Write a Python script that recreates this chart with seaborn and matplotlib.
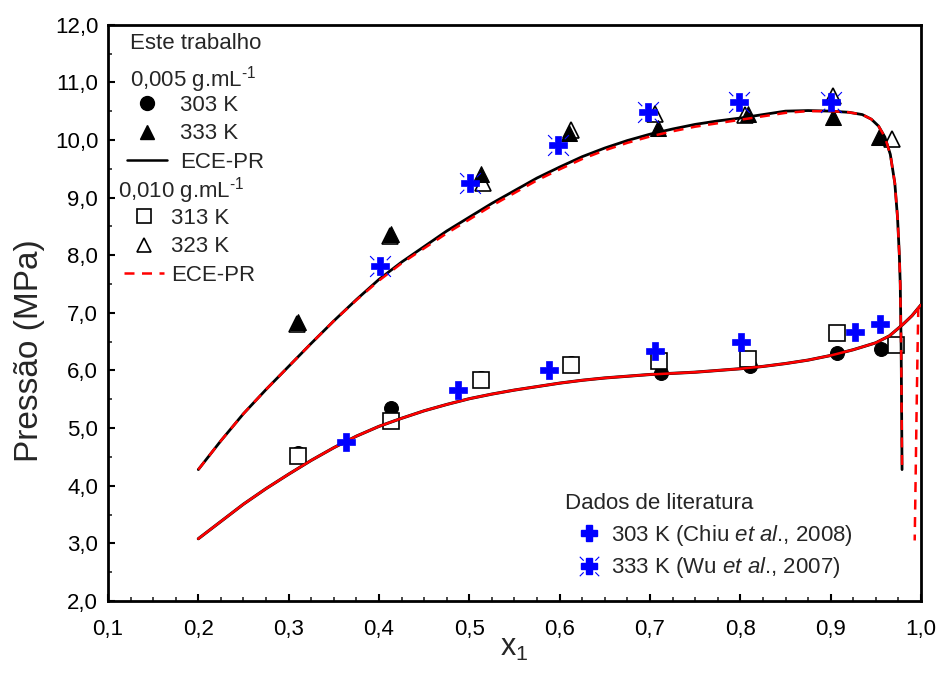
import numpy as np
import matplotlib
matplotlib.use("Agg")
import matplotlib.pyplot as plt
from matplotlib.lines import Line2D
from matplotlib.path import Path
from matplotlib.ticker import MultipleLocator, FuncFormatter
import seaborn as sns

# ---- experimental data: this work ----
x_303 = [0.310, 0.413, 0.513, 0.612, 0.712, 0.811, 0.907, 0.956]
p_303 = [4.56, 5.35, 5.87, 6.13, 5.95, 6.08, 6.31, 6.37]

x_333 = [0.310, 0.413, 0.513, 0.610, 0.709, 0.808, 0.903, 0.953]
p_333 = [6.84, 8.37, 9.41, 10.12, 10.20, 10.45, 10.40, 10.05]

x_313 = [0.310, 0.413, 0.513, 0.612, 0.710, 0.808, 0.907, 0.972]
p_313 = [4.51, 5.13, 5.83, 6.10, 6.17, 6.20, 6.65, 6.44]

x_323 = [0.309, 0.412, 0.515, 0.612, 0.705, 0.805, 0.903, 0.968]
p_323 = [6.80, 8.33, 9.25, 10.18, 10.45, 10.44, 10.77, 10.02]

# ---- literature data ----
x_chiu = [0.363, 0.488, 0.588, 0.706, 0.801, 0.927, 0.955]
p_chiu = [4.75, 5.66, 6.01, 6.33, 6.49, 6.66, 6.80]

x_wu = [0.401, 0.501, 0.598, 0.698, 0.799, 0.900]
p_wu = [7.82, 9.25, 9.91, 10.48, 10.65, 10.65]

# ---- ECE-PR model curves ----
x_hi = [0.200, 0.225, 0.250, 0.275, 0.300, 0.325, 0.350, 0.375, 0.400, 0.425,
        0.450, 0.475, 0.500, 0.525, 0.550, 0.575, 0.600, 0.625, 0.650, 0.675,
        0.700, 0.725, 0.750, 0.775, 0.800, 0.825, 0.850, 0.875, 0.900, 0.920,
        0.935, 0.945, 0.953, 0.960, 0.966, 0.971, 0.974, 0.976, 0.977, 0.978,
        0.979]
p_hi_005 = [4.28, 4.78, 5.25, 5.67, 6.07, 6.47, 6.86, 7.23, 7.58, 7.88,
            8.15, 8.42, 8.66, 8.90, 9.12, 9.34, 9.53, 9.71, 9.86, 9.99,
            10.10, 10.19, 10.27, 10.33, 10.38, 10.44, 10.50, 10.51, 10.50, 10.48,
            10.44, 10.36, 10.24, 10.05, 9.75, 9.25, 8.65, 8.00, 7.50, 6.40,
            4.28]
p_hi_010 = [4.28, 4.78, 5.25, 5.67, 6.07, 6.47, 6.86, 7.22, 7.56, 7.86,
            8.12, 8.38, 8.62, 8.86, 9.08, 9.30, 9.49, 9.67, 9.82, 9.95,
            10.06, 10.15, 10.23, 10.29, 10.35, 10.41, 10.47, 10.50, 10.50, 10.48,
            10.44, 10.36, 10.24, 10.05, 9.75, 9.25, 8.65, 8.00, 7.50, 6.40,
            4.28]

x_lo = [0.200, 0.225, 0.250, 0.275, 0.300, 0.325, 0.350, 0.375, 0.400, 0.425,
        0.450, 0.475, 0.500, 0.525, 0.550, 0.575, 0.600, 0.625, 0.650, 0.675,
        0.700, 0.725, 0.750, 0.775, 0.800, 0.825, 0.850, 0.875, 0.900, 0.925,
        0.950, 0.965, 0.980, 0.990, 1.000]
p_lo = [3.08, 3.38, 3.68, 3.95, 4.20, 4.44, 4.66, 4.86, 5.03, 5.17,
        5.30, 5.41, 5.51, 5.59, 5.66, 5.72, 5.78, 5.83, 5.87, 5.90,
        5.93, 5.95, 5.97, 6.00, 6.03, 6.07, 6.12, 6.18, 6.26, 6.36,
        6.48, 6.60, 6.80, 6.95, 7.14]

x_lo_dew = [0.997, 0.996, 0.995, 0.994, 0.993]
p_lo_dew = [7.10, 6.20, 5.20, 4.10, 3.05]

sns.set_theme(style="white")
plt.rcParams["font.family"] = ["Liberation Sans", "DejaVu Sans"]
plt.rcParams["mathtext.fontset"] = "custom"
plt.rcParams["mathtext.rm"] = "Liberation Sans"
plt.rcParams["mathtext.it"] = "Liberation Sans:italic"

fig = plt.figure(figsize=(9.38, 6.82), dpi=100)
ax = fig.add_axes([0.1151, 0.1188, 0.8668, 0.8450])

ms = 10
# open symbols (0.010 g/mL)
sns.lineplot(x=x_323, y=p_323, ax=ax, linestyle="", marker="^", markersize=ms + 1,
             markerfacecolor="white", markeredgecolor="black", markeredgewidth=1.2,
             zorder=3, estimator=None, sort=False)
# filled symbols (0.005 g/mL)
sns.lineplot(x=x_333, y=p_333, ax=ax, linestyle="", marker="^", markersize=ms + 1,
             markerfacecolor="black", markeredgecolor="black", zorder=4,
             estimator=None, sort=False)
sns.lineplot(x=x_303, y=p_303, ax=ax, linestyle="", marker="o", markersize=ms,
             markerfacecolor="black", markeredgecolor="black", zorder=4,
             estimator=None, sort=False)
sns.lineplot(x=x_313, y=p_313, ax=ax, linestyle="", marker="s", markersize=ms + 1,
             markerfacecolor="white", markeredgecolor="black", markeredgewidth=1.2,
             zorder=5, estimator=None, sort=False)

# model curves
ax.plot(x_hi, p_hi_005, color="black", lw=2.0, zorder=6)
ax.plot(x_hi, p_hi_010, color="red", lw=1.8, dashes=(4, 3), zorder=7)
ax.plot(x_lo, p_lo, color="black", lw=2.2, zorder=6)
ax.plot(x_lo, p_lo, color="red", lw=1.8, zorder=7)
ax.plot(x_lo_dew, p_lo_dew, color="red", lw=1.8, dashes=(4, 3), zorder=7)

# literature symbols
blue = "#0000ff"
spark = Path([(-1, -1), (-0.6, -0.6), (1, 1), (0.6, 0.6),
              (-1, 1), (-0.6, 0.6), (1, -1), (0.6, -0.6)],
             [Path.MOVETO, Path.LINETO] * 4)
sns.lineplot(x=x_chiu, y=p_chiu, ax=ax, linestyle="", marker="P", markersize=13,
             markerfacecolor=blue, markeredgecolor=blue, markeredgewidth=0.5,
             zorder=8, estimator=None, sort=False)
sns.lineplot(x=x_wu, y=p_wu, ax=ax, linestyle="", marker=spark, markersize=15,
             markerfacecolor="none", markeredgecolor=blue, markeredgewidth=0.8,
             zorder=8, estimator=None, sort=False)
sns.lineplot(x=x_wu, y=p_wu, ax=ax, linestyle="", marker="P", markersize=13,
             markerfacecolor=blue, markeredgecolor=blue, markeredgewidth=0.5,
             zorder=8, estimator=None, sort=False)

# axes
ax.set_xlim(0.1, 1.0)
ax.set_ylim(2.0, 12.0)
ax.xaxis.set_major_locator(MultipleLocator(0.1))
ax.xaxis.set_minor_locator(MultipleLocator(0.025))
ax.yaxis.set_major_locator(MultipleLocator(1.0))
ax.yaxis.set_minor_locator(MultipleLocator(0.5))
fmt = FuncFormatter(lambda v, pos: f"{v:.1f}".replace(".", ","))
ax.xaxis.set_major_formatter(fmt)
ax.yaxis.set_major_formatter(fmt)
ax.tick_params(which="major", direction="in", length=5, width=1.5,
               labelsize=16, bottom=True, left=True, top=False, right=False,
               colors="black")
ax.tick_params(axis="x", which="major", pad=13)
ax.tick_params(axis="y", which="major", pad=7)
ax.tick_params(which="minor", direction="in", length=3, width=1.2,
               bottom=True, left=True, top=False, right=False)
for s in ax.spines.values():
    s.set_visible(True)
    s.set_color("black")
    s.set_linewidth(2.0)
ax.set_xlabel("x$_1$", fontsize=22)
ax.set_ylabel("Pressão (MPa)", fontsize=24)
ax.xaxis.set_label_coords(0.5, -0.056)
ax.yaxis.set_label_coords(-0.0775, 0.434)

# legend blocks
tfs = 16
ax.text(0.027, 0.9665, "Este trabalho", transform=ax.transAxes, fontsize=tfs,
        va="center", ha="left")
ax.text(0.027, 0.905, "0,005 g.mL$^{\\text{-1}}$", transform=ax.transAxes,
        fontsize=tfs, va="center", ha="left")
ax.text(0.012, 0.712, "0,010 g.mL$^{\\text{-1}}$", transform=ax.transAxes,
        fontsize=tfs, va="center", ha="left")
ax.text(0.562, 0.170, "Dados de literatura", transform=ax.transAxes, fontsize=tfs,
        va="center", ha="left")

leg_kw = dict(frameon=False, fontsize=tfs, labelspacing=0.33, borderpad=0.0,
              borderaxespad=0.0, handlelength=1.8)

h1 = [Line2D([], [], ls="", marker="o", ms=ms, mfc="black", mec="black"),
      Line2D([], [], ls="", marker="^", ms=ms, mfc="black", mec="black"),
      Line2D([], [], color="black", lw=1.8)]
leg1 = ax.legend(h1, ["303 K", "333 K", "ECE-PR"], loc="upper left",
                 bbox_to_anchor=(0.0234, 0.878), handletextpad=0.6, **leg_kw)
ax.add_artist(leg1)

h2 = [Line2D([], [], ls="", marker="s", ms=ms, mfc="white", mec="black", mew=1.2),
      Line2D([], [], ls="", marker="^", ms=ms, mfc="white", mec="black", mew=1.2),
      Line2D([], [], color="red", lw=1.8, dashes=(4, 3))]
leg2 = ax.legend(h2, ["313 K", "323 K", "ECE-PR"], loc="upper left",
                 bbox_to_anchor=(0.0197, 0.682), handletextpad=0.3, **leg_kw)
ax.add_artist(leg2)

h3 = [Line2D([], [], ls="", marker="P", ms=12, mfc=blue, mec=blue),
      (Line2D([], [], ls="", marker=spark, ms=14, mfc="none", mec=blue, mew=0.8),
       Line2D([], [], ls="", marker="P", ms=12, mfc=blue, mec=blue))]
leg3 = ax.legend(h3, ["303 K (Chiu $\\it{et\\ al}$., 2008)",
                      "333 K (Wu $\\it{et\\ al}$., 2007)"],
                 loc="upper left", bbox_to_anchor=(0.567, 0.1354),
                 handletextpad=0.1, **leg_kw)

fig.savefig("out.png", dpi=100)
